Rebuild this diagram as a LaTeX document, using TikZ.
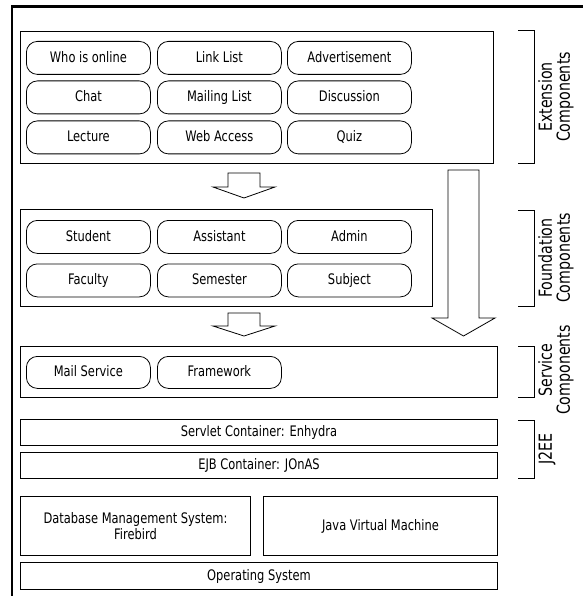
\documentclass[tikz,border=0pt]{standalone}
\usepackage{fontspec}
\setmainfont{DejaVu Sans}[FakeStretch=0.79]
\begin{document}
\begin{tikzpicture}[x=1pt,y=-1pt,
  comp/.style={draw=black, line width=0.8pt, rounded corners=11pt, minimum width=124pt, minimum height=33pt, inner sep=0pt, anchor=north west, font=\fontsize{14.5}{16}\selectfont, text height=10.5pt, text depth=2.2pt},
  layer/.style={draw=black, line width=1pt, inner sep=0pt, anchor=north west, font=\fontsize{14.5}{16.5}\selectfont, align=center},
  oneline/.style={text height=10.5pt, text depth=2.2pt},
  blockarrow/.style={draw=black, fill=white, line width=0.8pt, line join=miter},
  bracket/.style={draw=black, line width=1pt},
  sidelab/.style={rotate=90, align=center, inner sep=0pt, font=\fontsize{18}{18}\selectfont}]
\useasboundingbox (0,0) rectangle (582,596);
% outer frame
\draw[line width=2.6pt] (12,610) -- (12,6.5) -- (600,6.5);
% extension components
\node[layer, minimum width=473pt, minimum height=132pt] (ext) at (20,31) {};
\node[comp] (who) at (26,41) {Who is online};
\node[comp] (link) at (157,41) {Link List};
\node[comp] (adv) at (287,41) {Advertisement};
\node[comp] (chat) at (26,80.5) {Chat};
\node[comp] (mail) at (157,80.5) {Mailing List};
\node[comp] (disc) at (287,80.5) {Discussion};
\node[comp] (lect) at (26,120.5) {Lecture};
\node[comp] (web) at (157,120.5) {Web Access};
\node[comp] (quiz) at (287,120.5) {Quiz};
% foundation components
\node[layer, minimum width=412pt, minimum height=97pt] (found) at (20,209) {};
\node[comp] (stud) at (26,220) {Student};
\node[comp] (assi) at (157,220) {Assistant};
\node[comp] (admin) at (287,220) {Admin};
\node[comp] (fac) at (26,263.5) {Faculty};
\node[comp] (sem) at (157,263.5) {Semester};
\node[comp] (subj) at (287,263.5) {Subject};
% service components
\node[layer, minimum width=477pt, minimum height=51pt] (serv) at (20,346) {};
\node[comp, minimum height=32pt] (mserv) at (26,356) {Mail Service};
\node[comp, minimum height=32pt] (frame) at (157,356) {Framework};
% J2EE
\node[layer, oneline, minimum width=477pt, minimum height=26pt] (servlet) at (20,419) {Servlet Container: Enhydra};
\node[layer, oneline, minimum width=477pt, minimum height=26pt] (ejb) at (20,452) {EJB Container: JOnAS};
% bottom
\node[layer, minimum width=230pt, minimum height=59pt] (dbms) at (20,496) {Database Management System:\\Firebird};
\node[layer, oneline, minimum width=234pt, minimum height=59pt] (jvm) at (263,496) {Java Virtual Machine};
\node[layer, oneline, minimum width=477pt, minimum height=27pt] (os) at (20,562) {Operating System};
% block arrows
\draw[blockarrow] (228,173) -- (260,173) -- (260,187) -- (275,187) -- (244,198) -- (213,187) -- (228,187) -- cycle;
\draw[blockarrow] (228,313) -- (260,313) -- (260,326) -- (275,326) -- (244,336) -- (213,326) -- (228,326) -- cycle;
\draw[blockarrow] (448,170) -- (479,170) -- (479,318) -- (495,318) -- (463.5,336) -- (432,318) -- (448,318) -- cycle;
% brackets
\draw[bracket] (518,31) -- (534,31) -- (534,163) -- (518,163);
\draw[bracket] (518,210) -- (534,210) -- (534,306) -- (518,306);
\draw[bracket] (518,346) -- (534,346) -- (534,397) -- (518,397);
\draw[bracket] (518,420) -- (534,420) -- (534,478) -- (518,478);
\node[sidelab] (lext) at (556,97) {Extension\\Components};
\node[sidelab] (lfound) at (556,258) {Foundation\\Components};
\node[sidelab] (lserv) at (556,370) {Service\\Components};
\node[sidelab] (lj2ee) at (547,449) {J2EE};
\end{tikzpicture}
\end{document}
